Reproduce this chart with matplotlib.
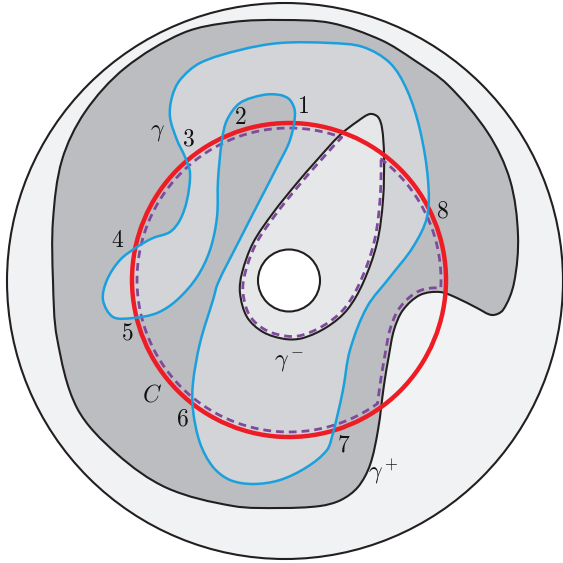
import numpy as np
import matplotlib
matplotlib.use("Agg")
import matplotlib.pyplot as plt
from matplotlib.path import Path
from matplotlib.patches import PathPatch, Circle

plt.rcParams['mathtext.fontset'] = 'cm'

# all coordinates are picture pixels, y pointing down
disk_center, disk_radius = (285, 281), 278
hole_center, hole_radius = (289, 280.5), 31
c_center, c_radius = (289, 280), 157
dash_radius = 152

# gamma plus (boundary of the dark region)
gamma_plus = [(282, 20), (331, 23), (381, 40), (414, 60), (448, 85), (488, 133), (510, 180),
              (518, 235), (514, 283), (503, 310), (492, 315), (477, 308), (457, 298),
              (440, 292), (420, 295), (403, 310), (394, 330), (389, 355), (384, 385),
              (378, 430), (370, 465), (358, 487), (341, 500), (320, 506), (281, 508),
              (233, 506), (167, 488), (117, 454), (77, 408), (57, 338),
              (53, 281), (53, 220), (62, 160), (85, 112), (125, 68), (183, 33), (233, 22)]

# gamma minus (teardrop round the hole)
gamma_minus = [(370, 114), (378, 117), (382, 128), (384, 155), (383, 200), (377, 243),
               (363, 283), (347, 310), (327, 327), (303, 338), (285, 339), (263, 332),
               (247, 317), (240, 293), (242, 273), (253, 243), (273, 213), (297, 183),
               (317, 160), (340, 135), (358, 121)]

# gamma (blue curve)
gamma = [(280, 43), (330, 43), (363, 47), (390, 63), (407, 90), (420, 130), (428, 180),
         (427, 217), (413, 247), (390, 277), (367, 307), (350, 350), (343, 390),
         (337, 417), (333, 433), (327, 450), (307, 467), (280, 480), (253, 484),
         (230, 480), (213, 467), (200, 443), (193, 410), (193, 383), (200, 343),
         (213, 300), (218, 283), (237, 245), (260, 200), (278, 165), (290, 140),
         (295, 113), (290, 100), (280, 95), (263, 95), (240, 103), (227, 120),
         (222, 140), (218, 180), (217, 217), (210, 250), (197, 277), (177, 300),
         (157, 313), (133, 318), (113, 317), (103, 300), (107, 280), (120, 260),
         (137, 247), (153, 238), (170, 232), (180, 220), (187, 200), (190, 173),
         (185, 157), (177, 140), (170, 117), (172, 97), (180, 80), (200, 63), (240, 50)]

labels = ['$1$', '$2$', '$3$', '$4$', '$5$', '$6$', '$7$', '$8$',
          r'$\gamma$', r'$\gamma^-$', r'$\gamma^+$', '$C$']
label_xy = [(303, 106), (240, 117), (188, 138), (118, 240), (127, 333), (182, 418),
            (344, 444), (442, 211), (157, 131), (289, 363), (383, 472), (152, 394)]

col_out, col_dark, col_mid, col_light = '#f0f2f4', '#bcbdc0', '#d3d4d7', '#e6e7e9'
col_line, col_blue, col_red, col_purple = '#231f20', '#1aa0dd', '#ee1c25', '#7d4a9c'


def segments(pts):
    # closed cubic through the points, tangents scaled by chord length
    P = np.asarray(pts, float)
    n = len(P)
    d = np.linalg.norm(np.roll(P, -1, 0) - P, axis=1)      # d[i] = |P[i+1]-P[i]|
    m = (np.roll(P, -1, 0) - np.roll(P, 1, 0)) / (np.roll(d, 1) + d)[:, None]
    out = []
    for i in range(n):
        j = (i + 1) % n
        out.append((P[i], P[i] + m[i] * d[i] / 3, P[j] - m[j] * d[i] / 3, P[j]))
    return out


def closed_path(pts):
    segs = segments(pts)
    verts, codes = [segs[0][0]], [Path.MOVETO]
    for p1, b1, b2, p2 in segs:
        verts += [b1, b2, p2]
        codes += [Path.CURVE4] * 3
    verts.append(segs[0][0])
    codes.append(Path.CLOSEPOLY)
    return Path(verts, codes)


def dense(pts, k=60):
    t = np.linspace(0, 1, k, endpoint=False)[:, None]
    return np.vstack([(1 - t) ** 3 * a + 3 * (1 - t) ** 2 * t * b + 3 * (1 - t) * t ** 2 * c + t ** 3 * d
                      for a, b, c, d in segments(pts)])


def offset_in(D, d):
    T = np.roll(D, -1, 0) - np.roll(D, 1, 0)
    T /= np.linalg.norm(T, axis=1)[:, None]
    N = np.column_stack([-T[:, 1], T[:, 0]])
    area = 0.5 * np.sum(D[:, 0] * np.roll(D[:, 1], -1) - np.roll(D[:, 0], -1) * D[:, 1])
    return D + d * np.sign(area) * N


def inside(D, c, r):
    m = np.hypot(D[:, 0] - c[0], D[:, 1] - c[1]) < r
    return D[np.where(m)[0]]


def ang(p):
    return np.arctan2(-(p[1] - c_center[1]), p[0] - c_center[0])


def arc(t0, t1, r):
    t = np.linspace(t0, t1, 300)
    return np.column_stack([c_center[0] + r * np.cos(t), c_center[1] - r * np.sin(t)])


fig = plt.figure(figsize=(5.63, 5.63), dpi=100)
ax = fig.add_axes([0, 0, 1, 1])
ax.set_xlim(0, 563)
ax.set_ylim(563, 0)
ax.set_aspect('equal')
ax.axis('off')

ax.add_patch(Circle(disk_center, disk_radius, fc=col_out, ec=col_line, lw=1.5, zorder=1))
ax.add_patch(PathPatch(closed_path(gamma_plus), fc=col_dark, ec=col_line, lw=1.5, zorder=2))
ax.add_patch(PathPatch(closed_path(gamma), fc=col_mid, ec='none', zorder=3))
ax.add_patch(PathPatch(closed_path(gamma_minus), fc=col_light, ec=col_line, lw=1.5, zorder=4))
ax.add_patch(Circle(hole_center, hole_radius, fc='white', ec=col_line, lw=1.5, zorder=5))

ax.add_patch(Circle(c_center, c_radius, fc='none', ec=col_red, lw=3.2, zorder=6))

# dashed curve: pieces of gamma-, C and gamma+
gm = inside(offset_in(dense(gamma_minus), 3), c_center, dash_radius)
gp = inside(offset_in(dense(gamma_plus), 4), c_center, dash_radius)[::-1]
arc_a = arc(ang(gm[-1]), ang(gp[0]) + 2 * np.pi, dash_radius)
arc_b = arc(ang(gp[-1]), ang(gm[0]), dash_radius)
dash = np.vstack([gm, arc_a, gp, arc_b, gm[:1]])
ax.plot(dash[:, 0], dash[:, 1], color=col_purple, lw=2.0, ls=(0, (2.8, 1.8)), zorder=7)

ax.add_patch(PathPatch(closed_path(gamma), fc='none', ec=col_blue, lw=1.8, zorder=8))

for s, (x, y) in zip(labels, label_xy):
    ax.text(x, y, s, fontsize=17, ha='center', va='center', color='#111111', zorder=9)

fig.savefig('out.png', dpi=100)
